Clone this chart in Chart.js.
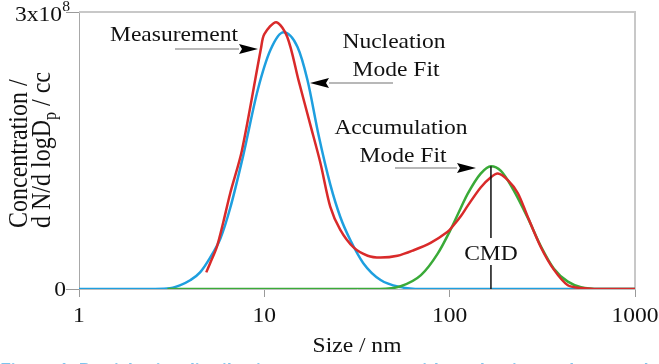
<!DOCTYPE html>
<html>
<head>
<meta charset="utf-8">
<script src="https://cdn.jsdelivr.net/npm/chart.js@4.4.1/dist/chart.umd.min.js"></script>
<style>
  html, body { margin: 0; padding: 0; background: #fff; }
  canvas { display: block; }
</style>
</head>
<body>
<canvas id="chart" width="659" height="364"></canvas>
<script>
// particle size (nm) and concentration (x10^6 per cc)
const measSize = [4.86, 5.1, 5.55, 6.0, 6.55, 7.57, 9.6, 10.0, 11.6, 13.3, 15.3, 17.7, 20.1, 22.7, 25.7, 30.3, 36.1, 42.4, 52.3, 63.9, 78.9, 97.5, 105, 115, 125, 147, 167, 182, 206, 233, 264, 311, 365, 434, 511, 600, 1000];
const measConc = [18, 28, 46, 72, 104, 150, 261, 276, 289, 273, 226, 178, 136, 89, 64, 45, 36, 34, 36, 42, 50, 62, 69, 79, 90, 110, 121, 125, 118, 104, 78, 45, 21, 4, 1, 0, 0];

const nucSize = [1, 2.4, 3.0, 3.5, 4.0, 4.5, 5.1, 5.8, 6.55, 7.7, 9.2, 10.8, 12.7, 15.1, 17.1, 19.6, 22.7, 25.7, 29.1, 34.2, 42.4, 54.4, 70, 1000];
const nucConc = [0, 0, 0.5, 4, 9.7, 18, 34, 55, 88, 145, 215, 259, 278, 262, 226, 167, 113, 78, 53, 28, 9.7, 2, 0, 0];

const accSize = [3, 42, 54.4, 70, 86, 101, 115, 125, 147, 167, 189, 220, 264, 311, 365, 434, 511, 650, 1000];
const accConc = [0, 0, 3, 15, 38, 64, 88, 103, 125, 133, 128, 108, 77, 46, 22, 8, 2, 0, 0];

const xTicks = [1, 10, 100, 1000];
const yTicks = [0, 300];
const yTickLabels = ["0", "3x10^8"];

// annotation anchors in data units
const cmdSize = 167;
const cmdConc = 133;

const SERIF = '"Liberation Serif", "Times New Roman", serif';
const SX = 1.12; // the figure is a bit stretched sideways

function pts(xs, ys) {
  return xs.map((x, i) => ({ x: x, y: ys[i] }));
}

function text(ctx, s, x, y, size, align) {
  ctx.save();
  ctx.font = size + "px " + SERIF;
  ctx.fillStyle = "#111";
  ctx.textBaseline = "alphabetic";
  ctx.translate(x, y);
  ctx.scale(SX, 1);
  ctx.textAlign = align || "center";
  ctx.fillText(s, 0, 0);
  ctx.restore();
}

function arrow(ctx, tailX, tipX, y) {
  const dir = tipX > tailX ? 1 : -1;
  const baseX = tipX - dir * 19;
  ctx.save();
  ctx.strokeStyle = "#a0a0a0";
  ctx.lineWidth = 1.5;
  ctx.beginPath();
  ctx.moveTo(tailX, y);
  ctx.lineTo(baseX, y);
  ctx.stroke();
  ctx.fillStyle = "#000";
  ctx.beginPath();
  ctx.moveTo(tipX, y);
  ctx.lineTo(baseX, y - 5);
  ctx.lineTo(baseX + dir * 3, y);
  ctx.lineTo(baseX, y + 5);
  ctx.closePath();
  ctx.fill();
  ctx.restore();
}

const framePlugin = {
  id: "frame",
  beforeDatasetsDraw(chart) {
    const { ctx, chartArea: a } = chart;
    ctx.save();
    ctx.strokeStyle = "#c8c8c8";
    ctx.lineWidth = 2;
    ctx.beginPath();
    ctx.moveTo(a.left, a.top);
    ctx.lineTo(a.right, a.top);
    ctx.lineTo(a.right, a.bottom);
    ctx.stroke();
    ctx.restore();
  }
};

const labelPlugin = {
  id: "labels",
  afterDraw(chart) {
    const ctx = chart.ctx;
    const xs = chart.scales.x, ys = chart.scales.y;

    // x tick labels
    xTicks.forEach(v => text(ctx, String(v), xs.getPixelForValue(v), 322, 21));

    // y tick labels
    yTicks.forEach((v, i) => {
      const py = ys.getPixelForValue(v);
      const parts = yTickLabels[i].split("^");
      if (parts.length === 1) {
        text(ctx, parts[0], 66, py + 7, 21, "right");
      } else {
        text(ctx, parts[1], 70, py - 1, 14, "right");
        text(ctx, parts[0], 62, py + 9, 21, "right");
      }
    });

    // axis titles
    text(ctx, "Size / nm", (xs.left + xs.right) / 2, 352, 21);

    ctx.save();
    ctx.fillStyle = "#111";
    ctx.translate(27, 228);
    ctx.scale(SX, 1);
    ctx.rotate(-Math.PI / 2);
    ctx.textAlign = "left";
    ctx.font = "24px " + SERIF;
    ctx.fillText("Concentration /", 0, 0);
    ctx.restore();

    ctx.save();
    ctx.fillStyle = "#111";
    ctx.translate(50, 228);
    ctx.scale(SX, 1);
    ctx.rotate(-Math.PI / 2);
    ctx.textAlign = "left";
    ctx.font = "24px " + SERIF;
    let s1 = "d N/d logD";
    ctx.fillText(s1, 0, 0);
    let w = ctx.measureText(s1).width;
    ctx.font = "16px " + SERIF;
    ctx.fillText("p", w, 5);
    w += ctx.measureText("p").width;
    ctx.font = "24px " + SERIF;
    ctx.fillText(" / cc", w, 0);
    ctx.restore();

    // annotations
    text(ctx, "Measurement", 110, 41, 21, "left");
    arrow(ctx, 175, 258, 49);

    text(ctx, "Nucleation", 394, 48, 21);
    text(ctx, "Mode Fit", 396, 76, 21);
    arrow(ctx, 393, 310, 83);

    text(ctx, "Accumulation", 401, 134, 21);
    text(ctx, "Mode Fit", 403, 162, 21);
    arrow(ctx, 395, 476, 168);

    // CMD marker
    const cx = xs.getPixelForValue(cmdSize);
    ctx.save();
    ctx.strokeStyle = "#111";
    ctx.lineWidth = 1.5;
    ctx.beginPath();
    ctx.moveTo(cx, ys.getPixelForValue(cmdConc));
    ctx.lineTo(cx, 238);
    ctx.moveTo(cx, 265);
    ctx.lineTo(cx, ys.getPixelForValue(0));
    ctx.stroke();
    ctx.restore();
    text(ctx, "CMD", cx, 260, 21);

    // caption cut off at the bottom edge
    ctx.save();
    ctx.fillStyle = "#7cc4ee";
    ctx.font = "bold 19px Lato, sans-serif";
    ctx.textAlign = "left";
    ctx.fillText("Figure 1: Particle size distribution measurement with nucleation and accumulation mode fits", 0, 377);
    ctx.restore();
  }
};

new Chart(document.getElementById("chart").getContext("2d"), {
  type: "scatter",
  data: {
    datasets: [
      {
        label: "Measurement",
        data: pts(measSize, measConc),
        showLine: true,
        borderColor: "#d92a2a",
        borderWidth: 2.5,
        pointRadius: 0,
        tension: 0.3
      },
      {
        label: "Accumulation Mode Fit",
        data: pts(accSize, accConc),
        showLine: true,
        borderColor: "#3aaa38",
        borderWidth: 2.5,
        pointRadius: 0,
        cubicInterpolationMode: "monotone"
      },
      {
        label: "Nucleation Mode Fit",
        data: pts(nucSize, nucConc),
        showLine: true,
        borderColor: "#1e9fdf",
        borderWidth: 2.5,
        pointRadius: 0,
        cubicInterpolationMode: "monotone"
      }
    ]
  },
  options: {
    responsive: false,
    animation: false,
    devicePixelRatio: 1,
    layout: { padding: { top: 12, right: 24, left: 0, bottom: 0 } },
    plugins: { legend: { display: false }, tooltip: { enabled: false } },
    scales: {
      x: {
        type: "logarithmic",
        min: 1,
        max: 1000,
        afterBuildTicks: s => { s.ticks = xTicks.map(v => ({ value: v })); },
        afterFit: s => { s.height = 75; },
        ticks: { display: false },
        grid: { display: true, drawOnChartArea: false, drawTicks: true, tickLength: 8, color: "#9a9a9a" },
        border: { display: true, color: "#bdbdbd", width: 1 }
      },
      y: {
        min: 0,
        max: 300,
        afterBuildTicks: s => { s.ticks = yTicks.map(v => ({ value: v })); },
        afterFit: s => { s.width = 79; },
        ticks: { display: false },
        grid: { display: true, drawOnChartArea: false, drawTicks: true, tickLength: 13, color: "#9a9a9a" },
        border: { display: true, color: "#a8a8a8", width: 1 }
      }
    }
  },
  plugins: [framePlugin, labelPlugin]
});
</script>
</body>
</html>
